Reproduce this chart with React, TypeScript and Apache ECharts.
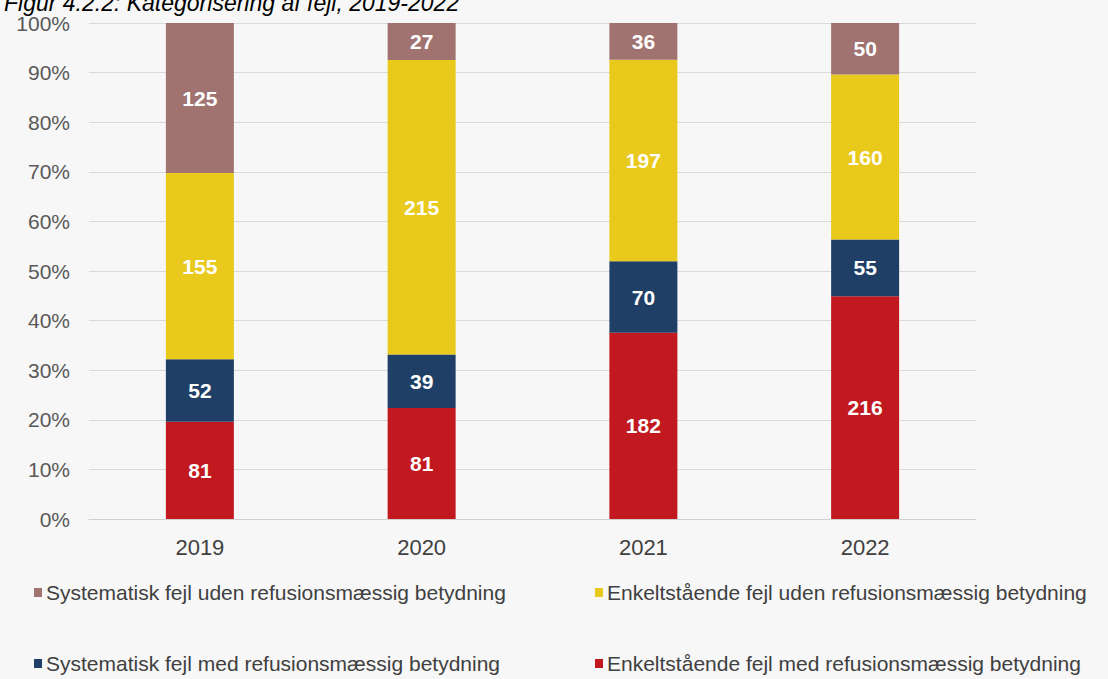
import React, { useEffect, useRef } from "react";
import * as echarts from "echarts";

const years = ["2019", "2020", "2021", "2022"];
const enkeltMed = [81, 81, 182, 216];
const systMed = [52, 39, 70, 55];
const enkeltUden = [155, 215, 197, 160];
const systUden = [125, 27, 36, 50];

const seriesNames = [
  "Enkeltstående fejl med refusionsmæssig betydning",
  "Systematisk fejl med refusionsmæssig betydning",
  "Enkeltstående fejl uden refusionsmæssig betydning",
  "Systematisk fejl uden refusionsmæssig betydning",
];
const seriesColors = ["#C1191F", "#1F3F66", "#E9C91C", "#A07371"];
const seriesData = [enkeltMed, systMed, enkeltUden, systUden];

export default function App() {
  const ref = useRef<HTMLDivElement>(null);
  useEffect(() => {
    document.body.style.margin = "0";
    const chart = echarts.init(ref.current!, null, { renderer: "svg" });
    const totals = years.map((_, i) => seriesData.reduce((s, arr) => s + arr[i], 0));
    const font = "'Liberation Sans', Arial, sans-serif";
    const legendPos = [
      { name: seriesNames[3], left: 34, top: 582 },
      { name: seriesNames[2], left: 595, top: 582 },
      { name: seriesNames[1], left: 34, top: 653 },
      { name: seriesNames[0], left: 595, top: 653 },
    ];
    chart.setOption({
      animation: false,
      backgroundColor: "#F7F7F7",
      title: {
        text: "Figur 4.2.2: Kategorisering af fejl, 2019-2022",
        left: 4,
        top: -9,
        padding: 0,
        textStyle: { fontFamily: font, fontStyle: "italic", fontWeight: "normal", fontSize: 23, color: "#000" },
      },
      grid: { left: 89, right: 132, top: 23, bottom: 160, containLabel: false },
      legend: legendPos.map((l) => ({
        data: [l.name],
        left: l.left,
        top: l.top,
        icon: "rect",
        itemWidth: 8,
        itemHeight: 9,
        padding: 0,
        textStyle: { fontFamily: font, fontSize: 21, color: "#404040", padding: [0, 0, 0, -1] },
      })),
      xAxis: {
        type: "category",
        data: years,
        axisLine: { lineStyle: { color: "#D0D0D0" } },
        axisTick: { show: false },
        axisLabel: { fontFamily: font, fontSize: 22, color: "#404040", margin: 17 },
      },
      yAxis: {
        type: "value",
        min: 0,
        max: 100,
        interval: 10,
        axisLabel: { formatter: "{value}%", fontFamily: font, fontSize: 21, color: "#595959", margin: 19 },
        splitLine: { lineStyle: { color: "#DADADA" } },
        axisLine: { show: false },
        axisTick: { show: false },
      },
      series: seriesData.map((arr, si) => ({
        name: seriesNames[si],
        type: "bar",
        stack: "total",
        barWidth: 68,
        itemStyle: { color: seriesColors[si] },
        label: {
          show: true,
          position: "inside",
          color: "#FFFFFF",
          fontFamily: font,
          fontWeight: "bold",
          fontSize: 21,
          formatter: (p: any) => String(arr[p.dataIndex]),
        },
        data: arr.map((v, i) => (v / totals[i]) * 100),
      })),
    });
    return () => chart.dispose();
  }, []);
  return <div ref={ref} style={{ width: 1108, height: 679 }} />;
}
